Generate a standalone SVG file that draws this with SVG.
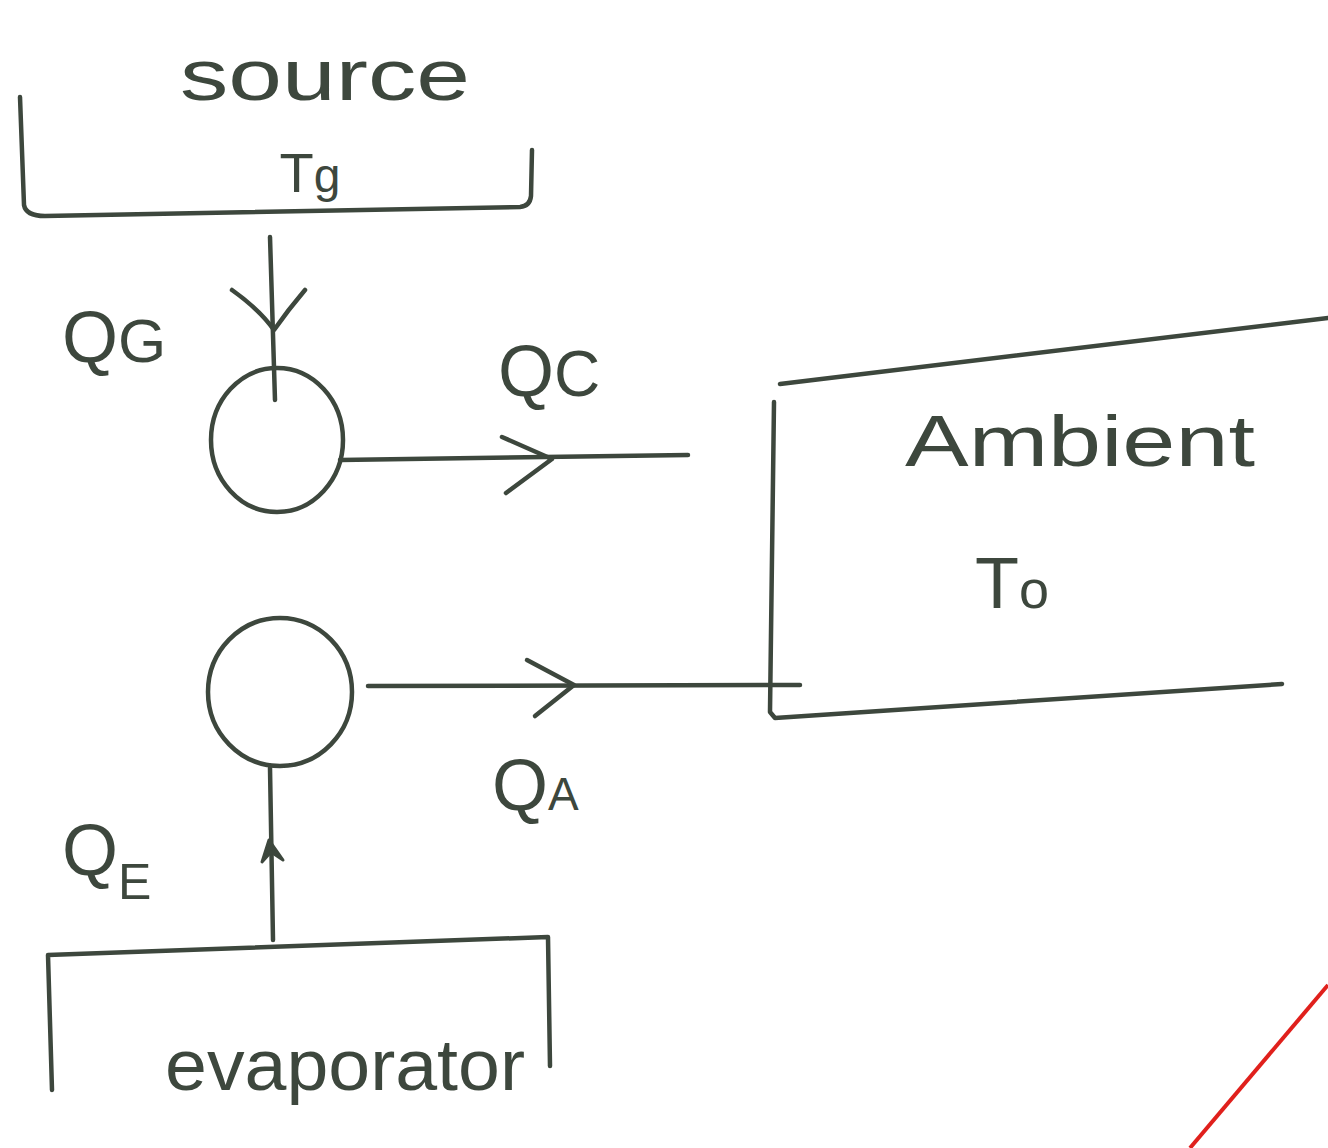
<svg xmlns="http://www.w3.org/2000/svg" width="1328" height="1148" viewBox="0 0 1328 1148">
<style>
.ink{fill:none;stroke:#3d473d;stroke-width:4.5;stroke-linecap:round;stroke-linejoin:round}
.lbl{font-family:"Liberation Sans",Arial,sans-serif;fill:#3d473d}
.big{font-size:72px}
.mid{font-size:56px}
</style>
<rect width="1328" height="1148" fill="#ffffff"/>
<g id="source">
<path class="ink" d="M20,97 L24,205 Q26,216 45,216 L520,207 Q530,206 531,196 L532,150"/>
<text class="lbl big" x="325" y="100" text-anchor="middle" textLength="290" lengthAdjust="spacingAndGlyphs">source</text>
<text class="lbl mid" x="310" y="192" text-anchor="middle">T<tspan font-size="48">g</tspan></text>
</g>
<g id="generator">
<ellipse class="ink" cx="277" cy="440" rx="66" ry="72"/>
</g>
<g id="absorber">
<ellipse class="ink" cx="280" cy="692" rx="72" ry="74"/>
</g>
<g id="ambient">
<path class="ink" d="M780,384 L1328,318"/>
<path class="ink" d="M774,402 L770,712 L775,718 L1282,684"/>
<text class="lbl big" x="1080" y="466" text-anchor="middle" textLength="350" lengthAdjust="spacingAndGlyphs">Ambient</text>
<text class="lbl big" x="1012" y="608" text-anchor="middle">T<tspan font-size="54">o</tspan></text>
</g>
<g id="evaporator">
<path class="ink" d="M52,1090 L48,955 L548,937 L550,1066"/>
<text class="lbl big" x="345" y="1090" text-anchor="middle" textLength="360" lengthAdjust="spacingAndGlyphs">evaporator</text>
</g>
<g id="connectors">
<path class="ink" d="M270,237 L275,400"/>
<path class="ink" d="M232,290 Q260,310 274,330 Q288,310 305,290"/>
<path class="ink" d="M340,460 L688,455"/>
<path class="ink" d="M502,437 L552,459 L506,493"/>
<path class="ink" d="M368,686 L800,685"/>
<path class="ink" d="M527,660 L574,685 L535,716"/>
<path class="ink" d="M273,940 L270,768"/>
<path d="M262,862 L269,840 L283,860 L271,852 Z" fill="#3d473d" stroke="#3d473d" stroke-width="3" stroke-linejoin="round"/>
<text class="lbl big" x="62" y="362">Q<tspan font-size="62">G</tspan></text>
<text class="lbl big" x="498" y="396">Q<tspan font-size="64">C</tspan></text>
<text class="lbl big" x="492" y="810">Q<tspan font-size="46">A</tspan></text>
<text class="lbl big" x="62" y="875">Q<tspan font-size="50" dy="24">E</tspan></text>
</g>
<path d="M1190,1148 L1328,985" stroke="#e0201c" stroke-width="4" fill="none"/>
</svg>
